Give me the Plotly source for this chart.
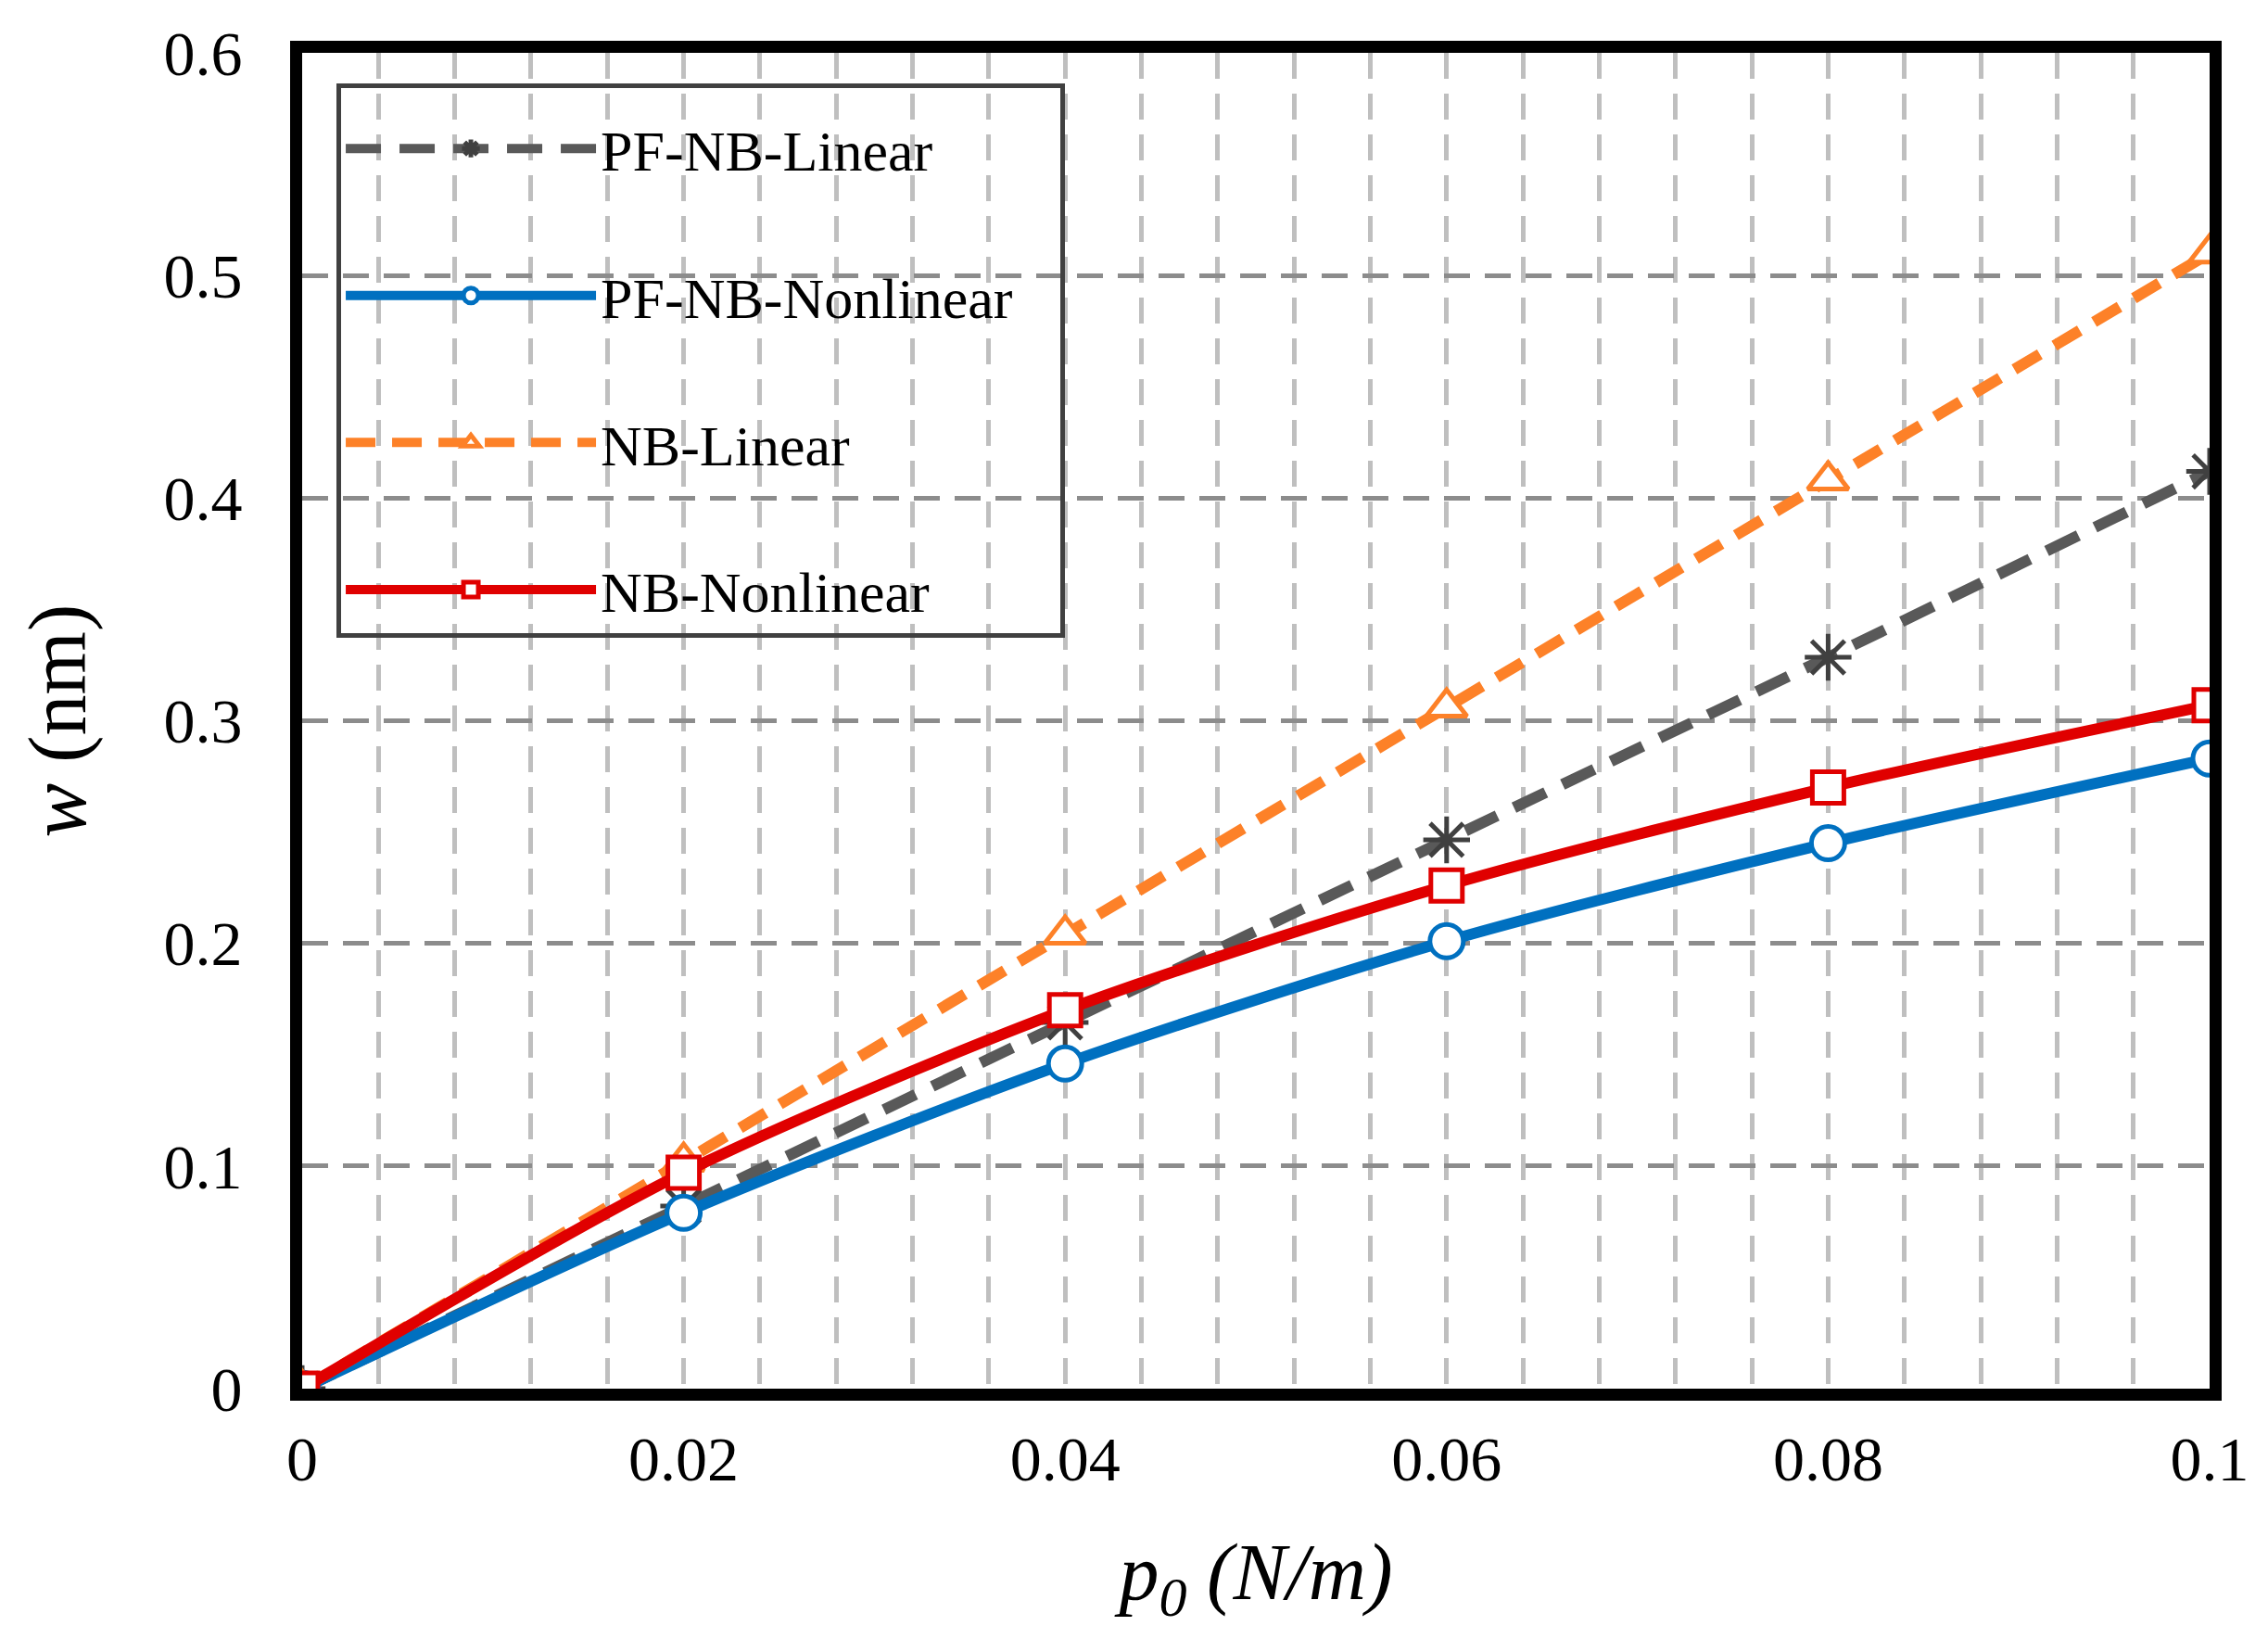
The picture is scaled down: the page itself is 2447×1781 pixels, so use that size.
import plotly.graph_objects as go

# load p0 (N/m) and deflection w (nm)
p0 = [0, 0.02, 0.04, 0.06, 0.08, 0.1]
pf_nb_linear = [0, 0.082, 0.1645, 0.2465, 0.3285, 0.412]
pf_nb_nonlinear = [0, 0.079, 0.146, 0.201, 0.245, 0.283]
nb_linear = [0, 0.102, 0.204, 0.306, 0.408, 0.510]
nb_nonlinear = [0, 0.097, 0.170, 0.226, 0.270, 0.307]

names = ['PF-NB-Linear', 'PF-NB-Nonlinear', 'NB-Linear', 'NB-Nonlinear']
xticks = [0, 0.02, 0.04, 0.06, 0.08, 0.1]
xticktext = ['0', '0.02', '0.04', '0.06', '0.08', '0.1']
yticks = [0, 0.1, 0.2, 0.3, 0.4, 0.5, 0.6]
yticktext = ['0', '0.1', '0.2', '0.3', '0.4', '0.5', '0.6']

FONT = 'Liberation Serif'
PAD = '\u00a0\u00a0\u00a0'  # a bit of room on the right of the legend box

styles = [
    dict(color='#595959', dash='38px,20px', symbol='asterisk-open', msize=42, mcolor='#404040', mfill='#404040'),
    dict(color='#0070C0', dash='solid', symbol='circle', msize=36, mcolor='#0070C0', mfill='white'),
    dict(color='#FD8128', dash='32px,18px', symbol='triangle-up', msize=38, mcolor='#FD8128', mfill='white'),
    dict(color='#E00000', dash='solid', symbol='square', msize=34, mcolor='#E00000', mfill='white'),
]
series = [pf_nb_linear, pf_nb_nonlinear, nb_linear, nb_nonlinear]

fig = go.Figure()
for i in range(4):
    s = styles[i]
    fig.add_trace(go.Scatter(
        x=p0, y=series[i], name=names[i] + PAD, mode='lines+markers',
        legendgroup=names[i],
        line=dict(color=s['color'], width=12, dash=s['dash'], shape='spline', smoothing=0.8),
        marker=dict(symbol=s['symbol'], size=s['msize'], color=s['mfill'],
                    line=dict(color=s['mcolor'], width=5)),
    ))

grid_dash = '28px,16px'
fig.update_layout(
    width=2447, height=1781,
    margin=dict(l=318, r=71, t=42, b=291),
    plot_bgcolor='white', paper_bgcolor='white',
    font=dict(family=FONT, size=68, color='black'),
    xaxis=dict(
        range=[0, 0.1], tickvals=xticks, ticktext=xticktext,
        showgrid=True, gridcolor='#BFBFBF', gridwidth=5, griddash=grid_dash,
        minor=dict(dtick=0.004, showgrid=True, gridcolor='#BFBFBF', gridwidth=5, griddash=grid_dash),
        zeroline=False, showline=True, mirror=True, linecolor='black', linewidth=13,
        ticks='', ticklabelstandoff=4,
        title=dict(text='<i>p</i><sub><i>0</i></sub><i> (N/m)</i>', font=dict(size=86), standoff=60),
    ),
    yaxis=dict(
        range=[0, 0.6], tickvals=yticks, ticktext=yticktext,
        showgrid=True, gridcolor='#8C8C8C', gridwidth=5, griddash=grid_dash,
        zeroline=False, showline=True, mirror=True, linecolor='black', linewidth=13,
        ticks='', ticklabelstandoff=38,
        title=dict(text='<i>w</i> (nm)', font=dict(size=88), standoff=60),
    ),
    legend=dict(
        x=0.018, y=0.977, xanchor='left', yanchor='top',
        bgcolor='rgba(0,0,0,0)', bordercolor='#404040', borderwidth=5,
        font=dict(family=FONT, size=62), tracegroupgap=75, itemwidth=270,
        title=dict(text=' ', font=dict(size=14)),
    ),
    showlegend=True,
)

fig.write_html("out.html")
